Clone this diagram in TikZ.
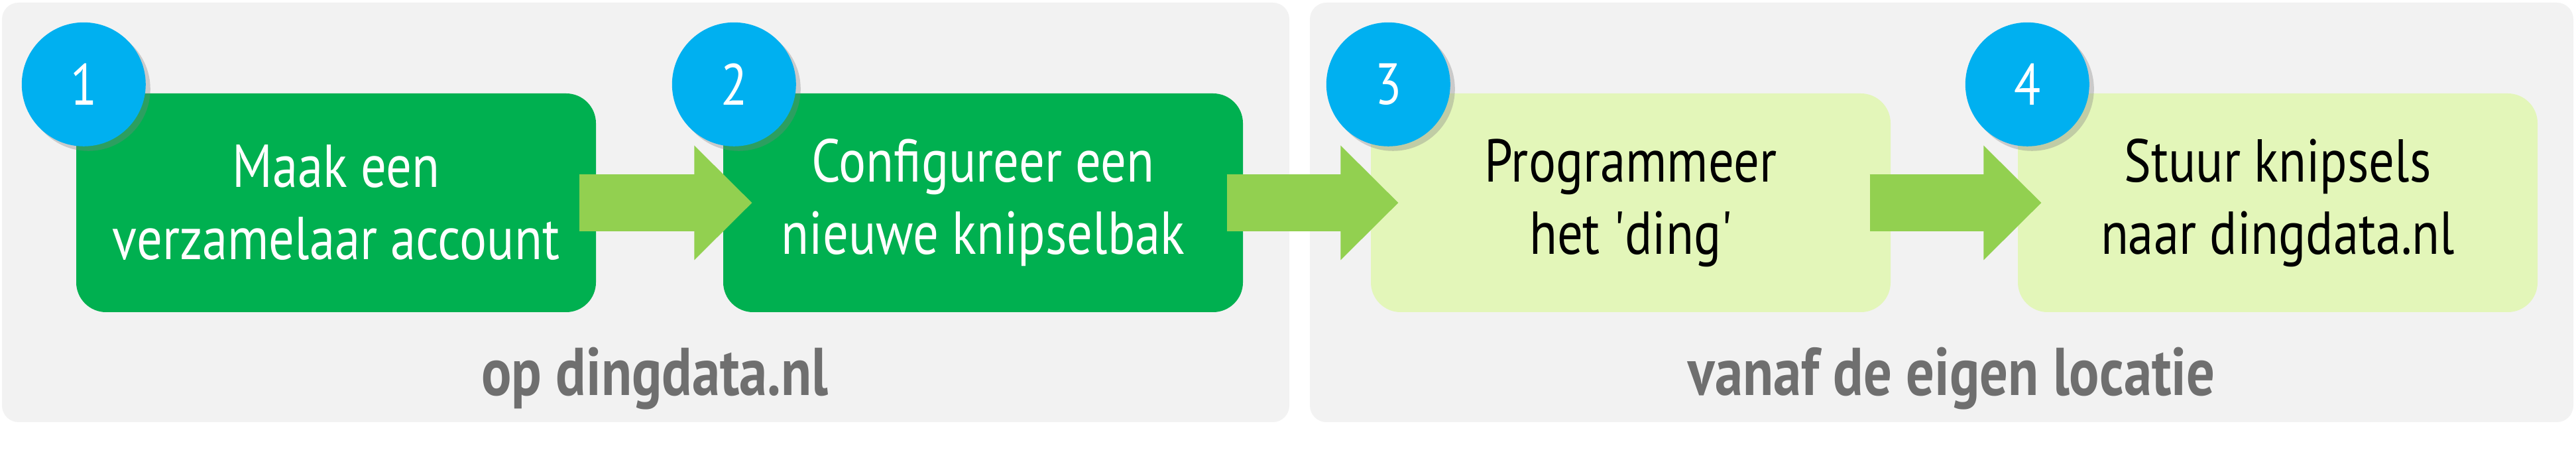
\documentclass[tikz,border=0pt]{standalone}
\usepackage{fontspec}
\newfontfamily\stapfont[FakeStretch=0.84]{PT Sans}
\newfontfamily\kopfont[FakeStretch=0.83]{PT Sans}
\usetikzlibrary{positioning,shadows,arrows.meta}
\definecolor{paneelgrijs}{HTML}{F2F2F2}
\definecolor{donkergroen}{HTML}{00B050}
\definecolor{lichtgroen}{HTML}{E3F6B9}
\definecolor{pijlgroen}{HTML}{92D050}
\definecolor{nummerblauw}{HTML}{00B0F0}
\definecolor{kopgrijs}{HTML}{6F6F6F}
\begin{document}
\begin{tikzpicture}[line join=round,
    paneel/.style={fill=paneelgrijs, rounded corners=0.25cm, minimum width=19.42cm, minimum height=6.33cm},
    stap/.style={rounded corners=0.45cm, minimum width=7.84cm, minimum height=3.30cm, align=center,
      font=\stapfont\fontsize{26}{31}\selectfont},
    donker/.style={stap, fill=donkergroen, text=white},
    licht/.style={stap, fill=lichtgroen, text=black},
    nummer/.style={circle, fill=nummerblauw, minimum size=1.87cm, inner sep=0pt, text=white,
      font=\stapfont\fontsize{25}{30}\selectfont,
      drop shadow={shadow xshift=0.07cm, shadow yshift=-0.07cm, opacity=0.35}},
    pijl/.style={draw=pijlgroen, line width=0.86cm,
      preaction={draw=pijlgroen, line width=0.86cm, -, shorten >=0.5cm},
      -{Triangle[width=1.73cm, length=0.87cm, line width=0pt]}},
    kop/.style={text=kopgrijs, anchor=base, font=\kopfont\bfseries\fontsize{29}{34}\selectfont}]
  % Vaste afmetingen van de afbeelding
  \useasboundingbox (0,0) rectangle (38.86,6.82);
  % Grijze panelen
  \node[paneel] (links) at (9.74,3.615) {};
  \node[paneel, minimum width=19.06cm] (rechts) at (29.29,3.615) {};
  % Stappen
  \node[donker] (b1) at (5.07,3.76) {Maak een\\verzamelaar account};
  \node[donker] (b2) at (14.83,3.76) {Configureer een\\nieuwe knipselbak};
  \node[licht] (b3) at (24.60,3.76) {Programmeer\\het 'ding'};
  \node[licht] (b4) at (34.36,3.76) {Stuur knipsels\\naar dingdata.nl};
  % Pijlen tussen de stappen
  \draw[pijl] ([xshift=-0.26cm]b1.east) -- ([xshift=0.44cm]b2.west);
  \draw[pijl] ([xshift=-0.25cm]b2.east) -- ([xshift=0.42cm]b3.west);
  \draw[pijl] ([xshift=-0.32cm]b3.east) -- ([xshift=0.36cm]b4.west);
  % Nummers
  \node[nummer] (n1) at ([xshift=0.12cm, yshift=0.13cm]b1.north west) {1};
  \node[nummer] (n2) at ([xshift=0.17cm, yshift=0.13cm]b2.north west) {2};
  \node[nummer] (n3) at ([xshift=0.27cm, yshift=0.13cm]b3.north west) {3};
  \node[nummer] (n4) at ([xshift=0.15cm, yshift=0.13cm]b4.north west) {4};
  % Onderschriften
  \node[kop] (k1) at (9.88,0.85) {op dingdata.nl};
  \node[kop] (k2) at (29.44,0.85) {vanaf de eigen locatie};
\end{tikzpicture}
\end{document}
